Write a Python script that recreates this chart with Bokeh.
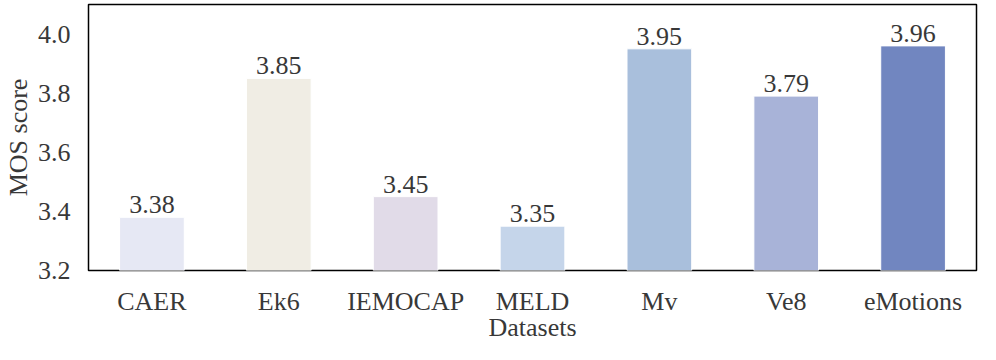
from bokeh.plotting import figure
from bokeh.models import ColumnDataSource, FixedTicker, PrintfTickFormatter, Range1d
from bokeh.embed import file_html
from bokeh.resources import INLINE
from bokeh.core.properties import value

datasets = ["CAER", "Ek6", "IEMOCAP", "MELD", "Mv", "Ve8", "eMotions"]
mos = [3.38, 3.85, 3.45, 3.35, 3.95, 3.79, 3.96]
labels = ["3.38", "3.85", "3.45", "3.35", "3.95", "3.79", "3.96"]
colors = ["#e6e8f4", "#f0ede4", "#e1dbe8", "#c5d5ea", "#a9bfdc", "#a8b3d8", "#7186c0"]
y_ticks = [3.2, 3.4, 3.6, 3.8, 4.0]

FONT = "Liberation Serif"
TXT = "#383838"
FS = "26px"

src = ColumnDataSource(dict(x=datasets, top=mos, label=labels, color=colors))

p = figure(x_range=datasets, y_range=Range1d(3.2, 4.1), width=980, height=344,
           output_backend="svg", toolbar_location=None,
           min_border_left=86, min_border_right=4, min_border_top=4, min_border_bottom=70)

p.vbar(x="x", top="top", bottom=3.2, width=0.51, fill_color="color",
       line_color="white", line_width=1, source=src)
p.text(x="x", y="top", text="label", source=src, text_align="center",
       text_baseline="bottom", y_offset=-4, text_font=value(FONT),
       text_font_size="26px", text_color=TXT)

p.xgrid.visible = False
p.ygrid.visible = False
p.outline_line_color = "black"
p.outline_line_width = 1.5
p.outline_line_alpha = 1.0

for ax in (p.xaxis[0], p.yaxis[0]):
    ax.axis_line_color = None
    ax.major_tick_line_color = None
    ax.minor_tick_line_color = None
    ax.major_label_text_font = FONT
    ax.major_label_text_font_size = FS
    ax.major_label_text_color = TXT
    ax.axis_label_text_font = FONT
    ax.axis_label_text_font_size = FS
    ax.axis_label_text_color = TXT
    ax.axis_label_text_font_style = "normal"

p.yaxis.ticker = FixedTicker(ticks=y_ticks)
p.yaxis.formatter = PrintfTickFormatter(format="%.1f")
p.yaxis.axis_label = "MOS score"
p.yaxis.major_label_standoff = 12
p.yaxis.axis_label_standoff = 2
p.xaxis.axis_label = "Datasets"
p.xaxis.major_label_standoff = 10
p.xaxis.axis_label_standoff = -6

open("out.html", "w").write(file_html(p, INLINE))
